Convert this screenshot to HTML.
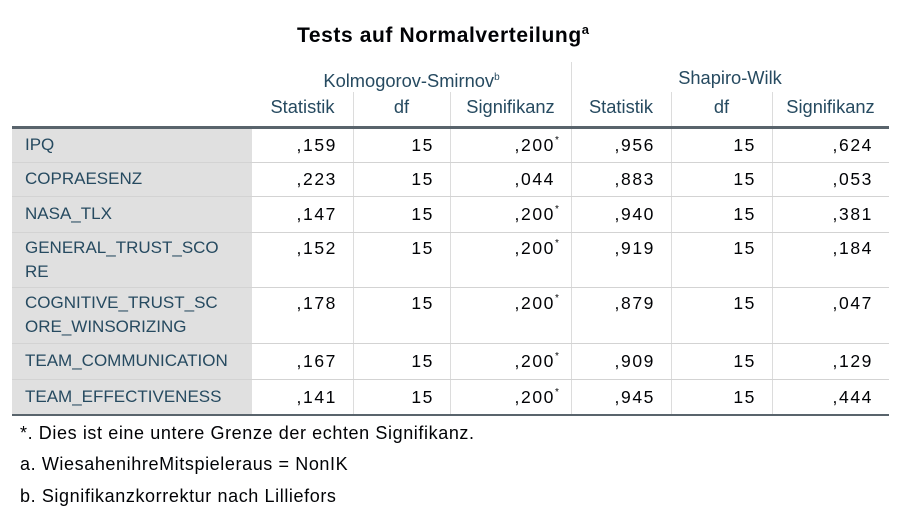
<!DOCTYPE html>
<html><head><meta charset="utf-8"><style>
body{margin:0;width:906px;height:516px;background:#fff;font-family:"Liberation Sans",Arial,sans-serif;position:relative;overflow:hidden}
.a{position:absolute;white-space:nowrap}
.t{font-weight:bold;font-size:21px;letter-spacing:0.6px;color:#010205;left:0;width:886px;text-align:center;top:22px}
.h{font-size:18.3px;line-height:20px;color:#264a60;text-align:center}
.c{font-size:17.5px;line-height:20px;letter-spacing:1.6px;color:#010205;text-align:right}
.l{font-size:17px;color:#264a60;background:#e0e0e0;line-height:24px;padding-left:13px;box-sizing:border-box}
.hl{height:1px;background:#d3d3d3}
.vl{width:1px;background:#dcdcdc}
.f{font-size:18px;letter-spacing:0.6px;color:#010205;left:20px}
sup{font-size:10px;letter-spacing:0}
</style></head><body>
<div class="a t">Tests auf Normalverteilung<sup style="font-size:13px">a</sup></div>
<div id="tbl"></div>
<div class="a f" style="top:423px">*. Dies ist eine untere Grenze der echten Signifikanz.</div>
<div class="a f" style="top:454px">a. WiesahenihreMitspieleraus = NonIK</div>
<div class="a f" style="top:486px">b. Signifikanzkorrektur nach Lilliefors</div>
<script>
const rowLabels=[["IPQ"],["COPRAESENZ"],["NASA_TLX"],["GENERAL_TRUST_SCO","RE"],["COGNITIVE_TRUST_SC","ORE_WINSORIZING"],["TEAM_COMMUNICATION"],["TEAM_EFFECTIVENESS"]];
const ksStat=[",159",",223",",147",",152",",178",",167",",141"];
const ksDf=["15","15","15","15","15","15","15"];
const ksSig=[",200*",",044",",200*",",200*",",200*",",200*",",200*"];
const swStat=[",956",",883",",940",",919",",879",",909",",945"];
const swDf=["15","15","15","15","15","15","15"];
const swSig=[",624",",053",",381",",184",",047",",129",",444"];
const colHeads=["Statistik","df","Signifikanz","Statistik","df","Signifikanz"];
const cols=[252,353,450,571,671,772,889];
const rowB=[127,162,196,232,287,343,379,415];
const T=document.getElementById('tbl');
function add(cls,style,html,name){const d=document.createElement('div');d.className='a '+cls;d.style.cssText=style;d.innerHTML=html;


T.appendChild(d);return d;}
add('h','left:252px;width:319px;top:68px','Kolmogorov-Smirnov<sup>b</sup>','ks-header');
add('h','left:571px;width:318px;top:68px','Shapiro-Wilk','sw-header');
add('vl','left:571px;top:62px;height:'+(415-62)+'px','','group-divider');
colHeads.forEach((h,i)=>add('h','left:'+cols[i]+'px;width:'+(cols[i+1]-cols[i])+'px;top:97px',h,'col-head'));
for(let i=1;i<6;i++){if(i!==3)add('vl','left:'+cols[i]+'px;top:92px;height:'+(415-92)+'px','','col-divider');}
const data=[ksStat,ksDf,ksSig,swStat,swDf,swSig];
rowLabels.forEach((lab,r)=>{
 const y=rowB[r],h=rowB[r+1]-y;
 const pad=h>40?4:Math.round((h-24)/2);
 add('l','left:12px;width:240px;top:'+y+'px;height:'+h+'px;padding-top:'+pad+'px',lab.join('<br>'),'row-label');
 data.forEach((arr,c)=>{let v=arr[r];if(v.endsWith('*'))v=v.slice(0,-1)+'<sup style="position:absolute;top:-4px">*</sup>';
  add('c','left:'+cols[c]+'px;width:'+(cols[c+1]-cols[c]-16)+'px;top:'+(y+pad+2)+'px',v,'cell');});
 if(r>0)add('hl','left:12px;width:877px;top:'+y+'px','','row-line');
});
add('hl','left:12px;width:877px;top:126px;height:3px;background:#59646c','','header-rule');
add('hl','left:12px;width:877px;top:414px;height:2px;background:#59646c','','bottom-rule');
</script>
</body></html>
